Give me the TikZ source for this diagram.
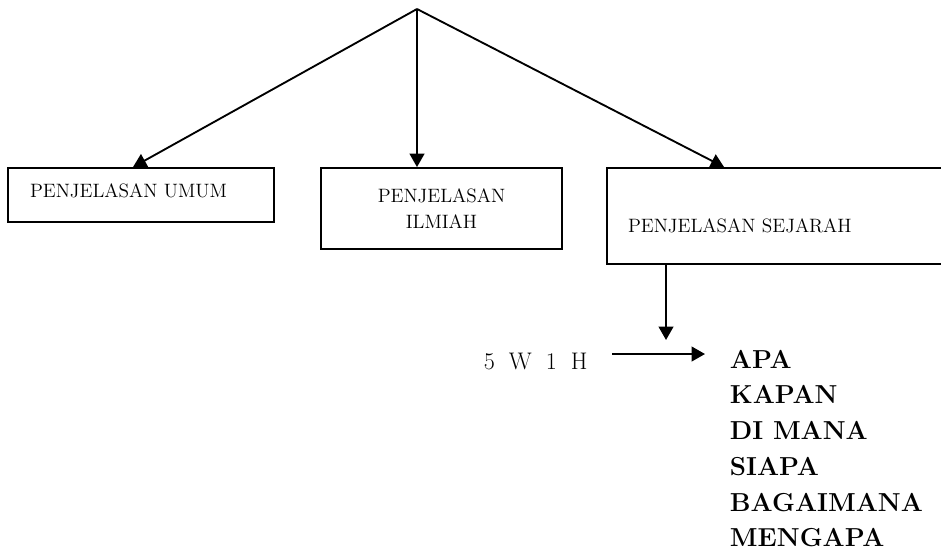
\documentclass[tikz,border=0pt]{standalone}
\usetikzlibrary{arrows.meta,calc}

\begin{document}
\begin{tikzpicture}[x=0.75pt,y=-0.75pt,line width=1.4pt,
                arr/.style={-{Triangle[width=11pt,length=10pt]}},
                kotak/.style={draw,rectangle,inner ysep=0pt,font=\fontsize{14.5}{20}\selectfont},
                tanya/.style={font=\fontsize{19.5}{26.8}\selectfont\bfseries}]
                \clip (0,0) rectangle (941,551);
                \coordinate (puncak) at (417,9);
                \node[kotak,minimum width=199.5pt,minimum height=40.5pt,text width=166.5pt,inner xsep=16.5pt,align=left,text height=12pt,text depth=8.5pt] (umum) at (141,195) {PENJELASAN UMUM};
                \node[kotak,minimum width=180.75pt,minimum height=60.75pt,align=center] (ilmiah) at (441.5,208.5) {PENJELASAN\\ILMIAH};
                \node[kotak,minimum width=264.75pt,minimum height=72pt,text width=233.25pt,inner xsep=15.75pt,align=left,text height=24pt,text depth=0pt] (sejarah) at (783.5,216) {PENJELASAN SEJARAH};
                \draw[arr] (puncak) -- ([xshift=-6pt]umum.north);
                \draw[arr] (puncak) -- (puncak |- ilmiah.north);
                \draw[arr] (puncak) -- ([xshift=88.5pt]sejarah.north west);
                \node[anchor=west,inner sep=0pt,font=\fontsize{18}{22}\selectfont] (wh) at (483,361) {5\hspace{10.5pt}W\hspace{10.5pt}1\hspace{10.5pt}H};
                \node[tanya,anchor=north west,inner sep=0pt,align=left] (daftar) at (729,349) {APA\\KAPAN\\DI MANA\\SIAPA\\BAGAIMANA\\MENGAPA};
                \coordinate (temu) at (666,340);
                \draw[arr] (temu |- sejarah.south) -- (temu);
                \draw[arr] ([xshift=18pt,yshift=5.25pt]wh.east) -- ($(daftar.west |- wh.east)+(-18pt,5.25pt)$);
            \end{tikzpicture}
\end{document}
